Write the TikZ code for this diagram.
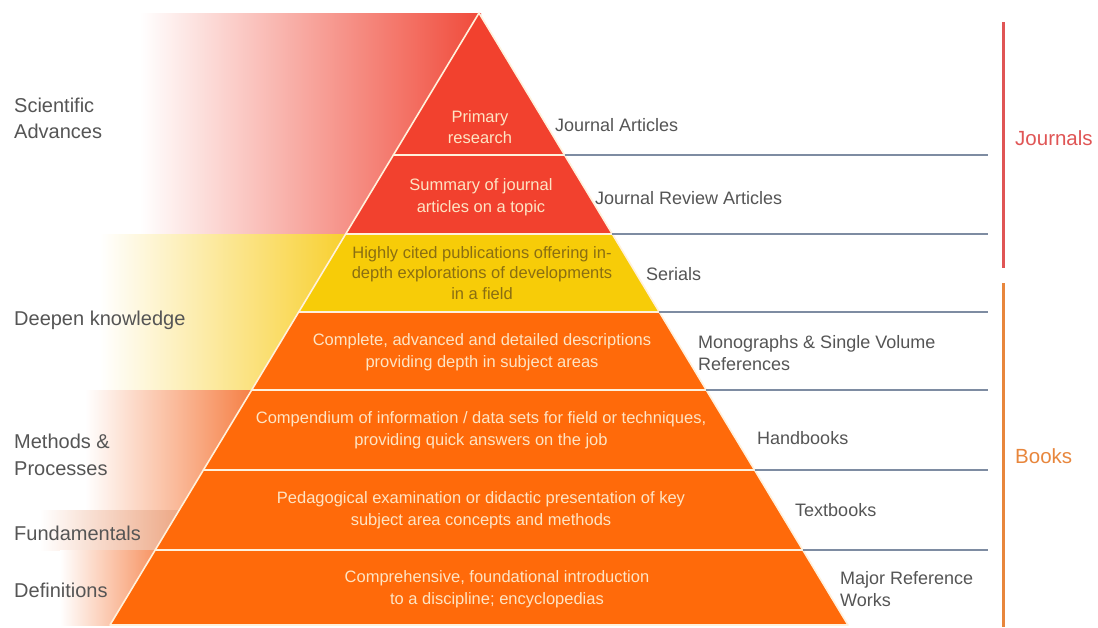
\documentclass[tikz,border=0pt]{standalone}
\usepackage{fontspec}
\setmainfont{Liberation Sans}
\usetikzlibrary{calc}
\definecolor{tierred}{HTML}{F2412E}
\definecolor{tieryel}{HTML}{F7CC08}
\definecolor{tierora}{HTML}{FF6A0A}
\definecolor{tiertxt}{HTML}{FDE4C4}
\definecolor{seritxt}{HTML}{8A6E12}
\definecolor{sepline}{HTML}{FFF1DC}
\definecolor{rulegray}{HTML}{7E8CA2}
\definecolor{labgray}{HTML}{555555}
\definecolor{jourred}{HTML}{E05555}
\definecolor{bookora}{HTML}{E8863C}
\definecolor{gradred}{HTML}{F04A3A}
\definecolor{gradyel}{HTML}{F8D030}
\definecolor{gradora}{HTML}{F5783A}
\definecolor{gradfun}{HTML}{EA9A72}
\begin{document}
\begin{tikzpicture}[x=1pt,y=-1pt,
  tier/.style={draw=sepline,line width=1.6pt,line join=round},
  tiertext/.style={inner sep=0pt,align=center,text=tiertxt,font=\fontsize{16.5}{21.5}\selectfont},
  leftlab/.style={anchor=west,inner sep=0pt,align=left,text=labgray,font=\fontsize{20}{26}\selectfont},
  rightlab/.style={anchor=west,inner sep=0pt,align=left,text=labgray,font=\fontsize{18}{22}\selectfont},
  rule/.style={draw=rulegray,line width=1.3pt},
  bar/.style={line width=3pt}]
\useasboundingbox (0,0) rectangle (1098,627);
\fill[white] (0,0) rectangle (1098,627);
% left gradient bands
\shade[left color=white,right color=gradred] (140,13) rectangle (481,234);
\shade[left color=white,right color=gradyel] (100,234) rectangle (345,390);
\shade[left color=white,right color=gradora] (85,390) rectangle (262,510);
\shade[left color=white,right color=gradfun] (40,510) rectangle (200,550);
\shade[left color=white,right color=gradora] (60,550) rectangle (180,625);
% pyramid coordinates
\coordinate (apex) at (479,13);
\coordinate (l1) at (393.4,155); \coordinate (r1) at (564.6,155);
\coordinate (l2) at (345.7,234); \coordinate (r2) at (612.3,234);
\coordinate (l3) at (298.7,312); \coordinate (r3) at (659.3,312);
\coordinate (l4) at (251.7,390); \coordinate (r4) at (706.3,390);
\coordinate (l5) at (203.4,470); \coordinate (r5) at (754.6,470);
\coordinate (l6) at (155.2,550); \coordinate (r6) at (802.8,550);
\coordinate (l7) at (110,625);   \coordinate (r7) at (848,625);
% tiers
\filldraw[tier,fill=tierred] (apex) -- (r1) -- (l1) -- cycle;
\filldraw[tier,fill=tierred] (l1) -- (r1) -- (r2) -- (l2) -- cycle;
\filldraw[tier,fill=tieryel] (l2) -- (r2) -- (r3) -- (l3) -- cycle;
\filldraw[tier,fill=tierora] (l3) -- (r3) -- (r4) -- (l4) -- cycle;
\filldraw[tier,fill=tierora] (l4) -- (r4) -- (r5) -- (l5) -- cycle;
\filldraw[tier,fill=tierora] (l5) -- (r5) -- (r6) -- (l6) -- cycle;
\filldraw[tier,fill=tierora] (l6) -- (r6) -- (r7) -- (l7) -- cycle;
% right rules
\coordinate (e1) at (988,155);
\coordinate (e2) at (988,234);
\coordinate (e3) at (988,312);
\coordinate (e4) at (988,390);
\coordinate (e5) at (988,470);
\coordinate (e6) at (988,550);
\draw[rule] (r1) -- (e1);
\draw[rule] (r2) -- (e2);
\draw[rule] (r3) -- (e3);
\draw[rule] (r4) -- (e4);
\draw[rule] (r5) -- (e5);
\draw[rule] (r6) -- (e6);
% vertical bars
\coordinate (jt) at (1003,22); \coordinate (jb) at (1003,268);
\coordinate (bt) at (1003,283); \coordinate (bb) at (1003,627);
\draw[bar,draw=jourred] (jt) -- (jb);
\draw[bar,draw=bookora] (bt) -- (bb);
% tier texts
\node[tiertext] (t1) at (480,127) {Primary\\research};
\node[tiertext] (t2) at (481,197) {Summary of journal\\articles on a topic};
\node[tiertext,text=seritxt,font=\fontsize{16.5}{20.5}\selectfont] (t3) at (482,273) {Highly cited publications offering in-\\depth explorations of developments\\in a field};
\node[tiertext] (t4) at (482,352) {Complete, advanced and detailed descriptions\\providing depth in subject areas};
\node[tiertext] (t5) at (481,430) {Compendium of information / data sets for field or techniques,\\providing quick answers on the job};
\node[tiertext] (t6) at (481,510) {Pedagogical examination or didactic presentation of key\\subject area concepts and methods};
\node[tiertext] (t7) at (497,589) {Comprehensive, foundational introduction\\to a discipline; encyclopedias};
% left labels
\node[leftlab] (sa) at (14,118) {Scientific\\Advances};
\node[leftlab] (dk) at (14,320) {Deepen knowledge};
\node[leftlab,font=\fontsize{20}{27}\selectfont] (mp) at (14,455) {Methods \&\\Processes};
\node[leftlab] (fu) at (14,533) {Fundamentals};
\node[leftlab] (de) at (14,590) {Definitions};
% right labels
\node[rightlab] (ja) at (555,125) {Journal Articles};
\node[rightlab] (jr) at (595,198) {Journal Review Articles};
\node[rightlab] (se) at (646,274) {Serials};
\node[rightlab] (mo) at (698,353) {Monographs \& Single Volume\\References};
\node[rightlab] (hb) at (757,438) {Handbooks};
\node[rightlab] (tb) at (795,510) {Textbooks};
\node[rightlab] (mr) at (840,589) {Major Reference\\Works};
\node[anchor=west,inner sep=0pt,text=jourred,font=\fontsize{20.5}{24}\selectfont] (jn) at (1015,138) {Journals};
\node[anchor=west,inner sep=0pt,text=bookora,font=\fontsize{20.5}{24}\selectfont] (bk) at (1015,456) {Books};
\end{tikzpicture}
\end{document}
